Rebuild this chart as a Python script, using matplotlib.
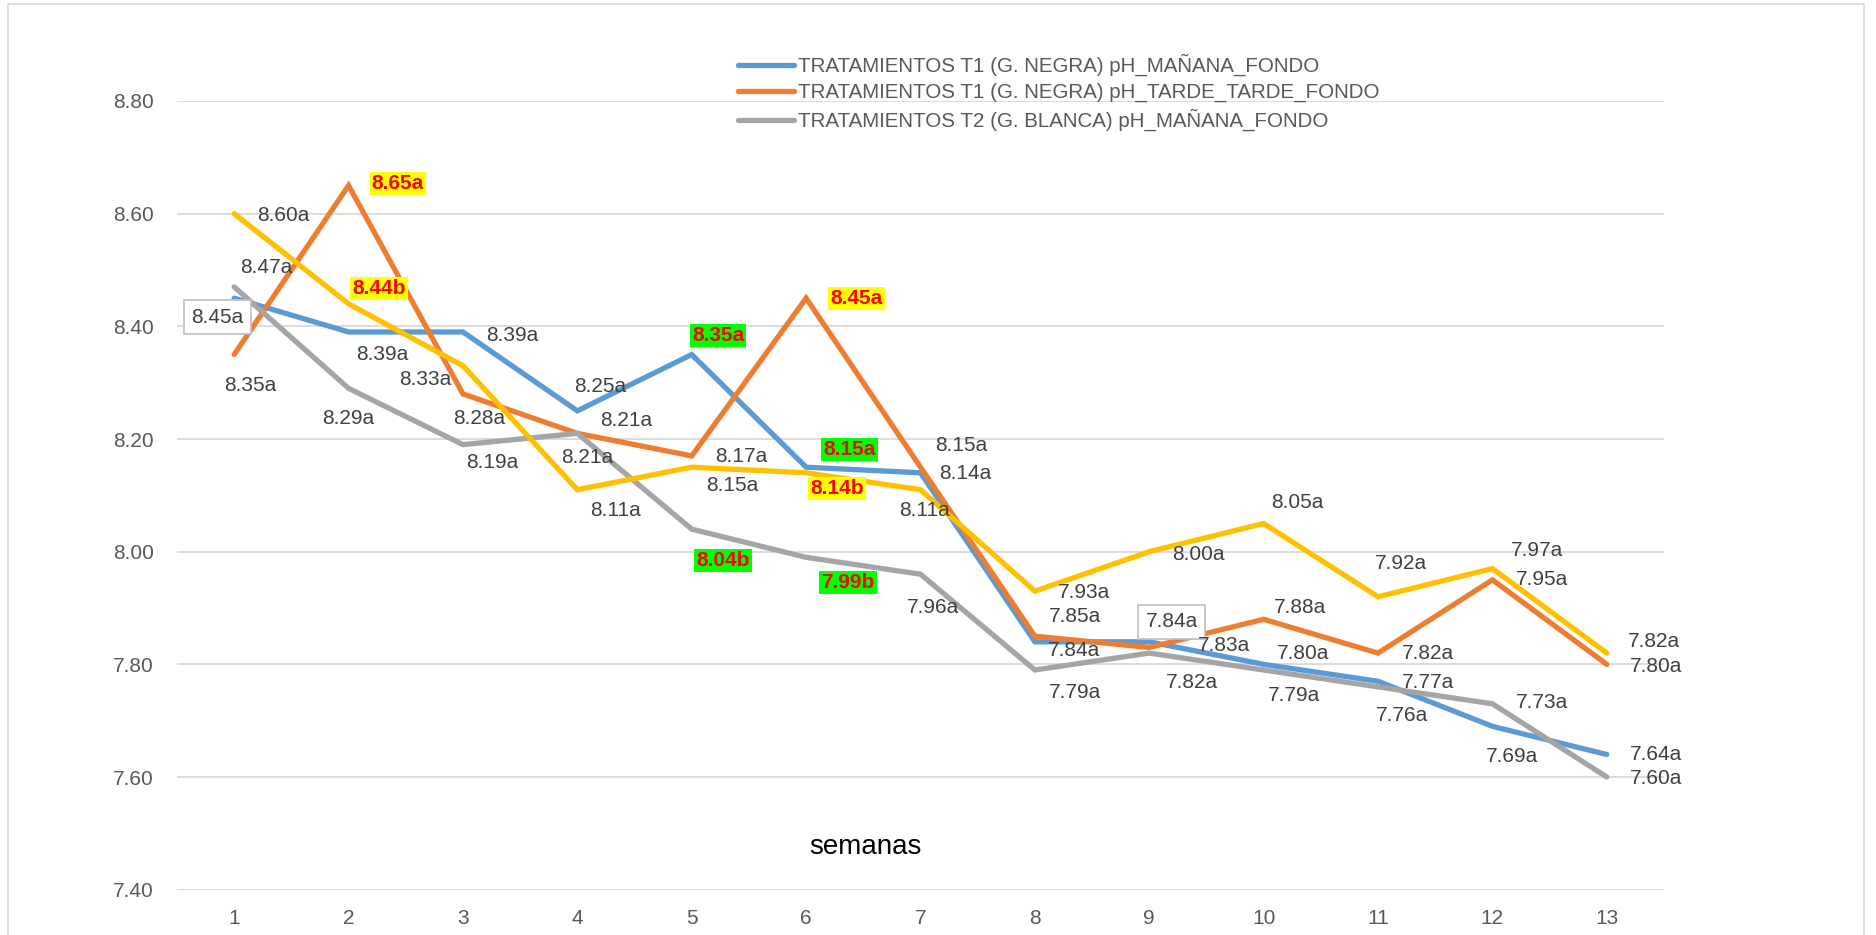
import matplotlib
matplotlib.use("Agg")
import matplotlib.pyplot as plt
from matplotlib.patches import Rectangle

plt.rcParams["font.family"] = ["Liberation Sans", "DejaVu Sans"]

# ---------------- data ----------------
weeks = list(range(1, 14))
xtick_labels = [str(w) for w in weeks]
yticks = [7.40, 7.60, 7.80, 8.00, 8.20, 8.40, 8.60, 8.80]

t1_manana = [8.45, 8.39, 8.39, 8.25, 8.35, 8.15, 8.14, 7.84, 7.84, 7.80, 7.77, 7.69, 7.64]
t1_tarde = [8.35, 8.65, 8.28, 8.21, 8.17, 8.45, 8.15, 7.85, 7.83, 7.88, 7.82, 7.95, 7.80]
t2_manana = [8.47, 8.29, 8.19, 8.21, 8.04, 7.99, 7.96, 7.79, 7.82, 7.79, 7.76, 7.73, 7.60]
t2_tarde = [8.60, 8.44, 8.33, 8.11, 8.15, 8.14, 8.11, 7.93, 8.00, 8.05, 7.92, 7.97, 7.82]

t1_manana_letters = list("aaaaaaaaaaaaa")
t1_tarde_letters = list("aaaaaaaaaaaaa")
t2_manana_letters = list("aaaabbaaaaaaa")
t2_tarde_letters = list("abaaabaaaaaaa")

legend_names = [
    "TRATAMIENTOS T1 (G. NEGRA) pH_MAÑANA_FONDO",
    "TRATAMIENTOS T1 (G. NEGRA) pH_TARDE_TARDE_FONDO",
    "TRATAMIENTOS T2 (G. BLANCA) pH_MAÑANA_FONDO",
]
x_title = "semanas"

# ---------------- styles / label placement ----------------
colors = ["#5B9BD5", "#ED7D31", "#A5A5A5", "#FFC000"]
# label highlight codes: n normal, y yellow box, g green box, w white framed box
t1_manana_hl = list("wnnnggnnwnnnn")
t1_tarde_hl = list("nynnnynnnnnnn")
t2_manana_hl = list("nnnnggnnnnnnn")
t2_tarde_hl = list("nynnnynnnnnnn")

# label offsets in pixels (dx right, dy down)
t1_manana_off = [(-16.5, 19), (33.6, 23), (48.8, 4), (22.8, -24), (26.3, -19), (43.6, -18),
                 (45, 0.5), (39, 9), (22.5, -20), (39, -10.6), (49.6, 1.5), (19.2, 29.7), (49, 0)]
t1_tarde_off = [(16.4, 30.5), (49.4, -2), (16.7, 24.4), (48.8, -12.4), (49.4, 1), (50.3, 0),
                (41, -22), (40, -20), (75, -2), (36.4, -11.6), (49.6, 0.6), (49.4, -0.8), (49, 1.7)]
t2_manana_off = [(31.6, -19), (0, 30), (29, 17.7), (10, 24.6), (31.2, 31.3), (41.8, 25.5),
                 (12.6, 33.5), (40, 23), (43, 29), (30.4, 26), (23.7, 29), (49.4, -1), (49, 1)]
t2_tarde_off = [(49, 2), (30.6, -15.3), (-37.6, 13.3), (38.4, 21), (40.5, 18.6), (30.6, 16),
                (4, 21), (49.6, 1.6), (49, 3.3), (34, -21), (23.3, -33), (44.6, -18.3), (47, -12)]

FS = 15.0
TXT = "#404040"
TICK = "#595959"

W, H = 1876, 935
fig = plt.figure(figsize=(W / 100, H / 100), dpi=100)
ax = fig.add_axes([177 / W, 1 - 889.7 / H, (1664 - 177) / W, (889.7 - 101) / H])

# outer chart border
fig.patches.append(Rectangle((8 / W, -0.02), (1864 - 8) / W, 1.02 - 4 / H,
                             transform=fig.transFigure, fill=False,
                             edgecolor="#D9D9D9", linewidth=1.2))

series = [
    (t1_manana, t1_manana_letters, t1_manana_hl, t1_manana_off, legend_names[0]),
    (t1_tarde, t1_tarde_letters, t1_tarde_hl, t1_tarde_off, legend_names[1]),
    (t2_manana, t2_manana_letters, t2_manana_hl, t2_manana_off, legend_names[2]),
    (t2_tarde, t2_tarde_letters, t2_tarde_hl, t2_tarde_off, "_nolegend_"),
]


def label_style(code):
    if code == "y":
        return dict(color="#FF0000", fontweight="bold",
                    bbox=dict(boxstyle="square,pad=0.1", fc="#FFFF00", ec="none"))
    if code == "g":
        return dict(color="#FF0000", fontweight="bold",
                    bbox=dict(boxstyle="square,pad=0.1", fc="#00FF00", ec="none"))
    if code == "w":
        return dict(color=TXT,
                    bbox=dict(boxstyle="square,pad=0.35", fc="white", ec="#BFBFBF", lw=1.2))
    return dict(color=TXT)


handles = []
for i, (vals, letters, hl, offs, name) in enumerate(series):
    (ln,) = ax.plot(weeks, vals, color=colors[i], linewidth=3.8, label=name,
                    solid_capstyle="round", solid_joinstyle="miter", zorder=3 + i)
    if not name.startswith("_"):
        handles.append(ln)
    for x, v, let, code, (dx, dy) in zip(weeks, vals, letters, hl, offs):
        ax.annotate(f"{v:.2f}{let}", (x, v), xytext=(dx, -dy), textcoords="offset pixels",
                    ha="center", va="center", fontsize=FS, zorder=10,
                    annotation_clip=False, **label_style(code))

ax.set_xlim(0.5, 13.5)
ax.set_ylim(7.40, 8.80)
ax.set_xticks(weeks)
ax.set_xticklabels(xtick_labels)
ax.set_yticks(yticks)
ax.set_yticklabels([f"{t:.2f}" for t in yticks])
ax.tick_params(axis="both", length=0, labelsize=FS, labelcolor=TICK)
ax.tick_params(axis="y", pad=16.5)
ax.tick_params(axis="x", pad=13.7)
ax.grid(axis="y", color="#D9D9D9", linewidth=1.3)
ax.set_axisbelow(True)
for s in ax.spines.values():
    s.set_visible(False)

leg = fig.legend(handles=handles, loc="upper left",
                 bbox_to_anchor=(738 / W, 1 - 54 / H), frameon=False,
                 fontsize=14.8, handlelength=2.72, handletextpad=0.18,
                 labelspacing=0.33, borderpad=0, borderaxespad=0)
for t in leg.get_texts():
    t.set_color(TICK)

fig.text(865 / W, 1 - 847 / H, x_title, ha="center", va="center", fontsize=20, color="black")

fig.savefig("out.png", dpi=100, facecolor="white")
